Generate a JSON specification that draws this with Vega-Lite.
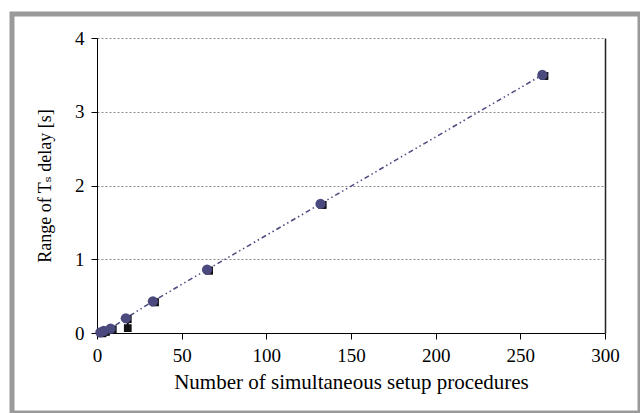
{
  "$schema": "https://vega.github.io/schema/vega-lite/v6.json",
  "width": 628,
  "height": 399,
  "autosize": {"type": "none"},
  "padding": {"left": 12, "top": 14, "right": 0, "bottom": 0},
  "background": "white",
  "config": {
    "view": {"stroke": "#9a9a9a", "strokeWidth": 5},
    "font": "Liberation Serif, DejaVu Serif, serif",
    "axis": {
      "labelFont": "Liberation Serif, DejaVu Serif, serif", "titleFont": "Liberation Serif, DejaVu Serif, serif",
      "labelFontSize": 19, "titleFontSize": 21, "titleFontWeight": "normal",
      "labelColor": "#000", "titleColor": "#000",
      "domainColor": "#000", "tickColor": "#000", "tickSize": 6, "domainWidth": 1
    }
  },
  "resolve": {"axis": {"y": "independent"}},
  "data": {"values": [
    {"n": 2, "t": 0.01, "lo": 0.01, "hi": 0.01},
    {"n": 4, "t": 0.03, "lo": 0.03, "hi": 0.03},
    {"n": 8, "t": 0.06, "lo": 0.06, "hi": 0.06},
    {"n": 17, "t": 0.2, "lo": 0.08, "hi": 0.2},
    {"n": 33, "t": 0.43, "lo": 0.43, "hi": 0.43},
    {"n": 65, "t": 0.86, "lo": 0.86, "hi": 0.86},
    {"n": 132, "t": 1.75, "lo": 1.75, "hi": 1.75},
    {"n": 263, "t": 3.5, "lo": 3.5, "hi": 3.5}
  ]},
  "encoding": {
    "x": {
      "field": "n", "type": "quantitative",
      "scale": {"domain": [0, 300], "range": [85, 593], "nice": false, "zero": false},
      "axis": {
        "values": [0, 50, 100, 150, 200, 250, 300],
        "title": "Number of simultaneous setup procedures",
        "offset": -80,
        "grid": false,
        "labelPadding": 7,
        "titlePadding": 6,
        "labelFlush": false
      }
    }
  },
  "layer": [
    {
      "mark": {"type": "line", "color": "#4b4a7f", "strokeWidth": 1.5, "strokeDash": [5, 3, 1.5, 3, 1.5, 3]},
      "encoding": {
        "y": {
          "field": "t", "type": "quantitative",
          "scale": {"domain": [0, 4], "range": [319, 24], "nice": false, "zero": false},
          "axis": {"orient": "left", "offset": 0, "values": [1, 2, 3, 4], "grid": true, "gridDash": [2, 2], "gridColor": "#8a8a8a", "gridWidth": 1, "domain": false, "ticks": false, "labels": false, "title": null}
        }
      }
    },
    {
      "mark": {"type": "rule", "color": "#111", "strokeWidth": 2, "xOffset": 2},
      "encoding": {
        "y": {
          "field": "lo", "type": "quantitative",
          "scale": {"domain": [0, 4], "range": [319, 24], "nice": false, "zero": false},
          "axis": {"orient": "right", "offset": -35, "grid": false, "domain": true, "domainColor": "#222", "domainWidth": 1.5, "ticks": false, "labels": false, "title": null}
        },
        "y2": {"field": "hi"}
      }
    },
    {
      "mark": {"type": "point", "shape": "square", "filled": true, "color": "#111", "opacity": 1, "size": 60, "xOffset": 2, "yOffset": 1},
      "encoding": {
        "y": {"field": "lo", "type": "quantitative", "scale": {"domain": [0, 4], "range": [319, 24], "nice": false, "zero": false}, "axis": null}
      }
    },
    {
      "mark": {"type": "point", "shape": "square", "filled": true, "color": "#111", "opacity": 1, "size": 60, "xOffset": 2, "yOffset": 1},
      "encoding": {
        "y": {"field": "hi", "type": "quantitative", "scale": {"domain": [0, 4], "range": [319, 24], "nice": false, "zero": false}, "axis": null}
      }
    },
    {
      "mark": {"type": "point", "shape": "circle", "filled": true, "color": "#4b4a7f", "opacity": 1, "size": 105},
      "encoding": {
        "y": {
          "field": "t", "type": "quantitative",
          "scale": {"domain": [0, 4], "range": [319, 24], "nice": false, "zero": false},
          "axis": {"orient": "left", "offset": -85, "values": [0, 1, 2, 3, 4], "grid": false, "title": "Range of Tₛ delay [s]", "titleFontSize": 18, "labelPadding": 7, "titlePadding": 20}
        }
      }
    }
  ]
}
